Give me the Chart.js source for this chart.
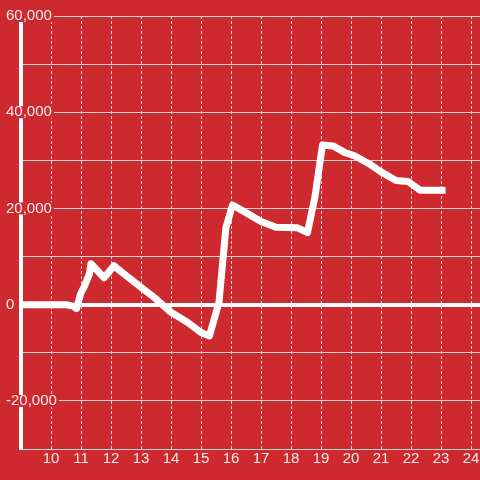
<!DOCTYPE html>
<html>
<head>
<meta charset="utf-8">
<script src="https://cdn.jsdelivr.net/npm/chart.js@4.4.0/dist/chart.umd.min.js"></script>
<style>
  html, body { margin: 0; padding: 0; background: #cd292e; }
  #wrap { width: 480px; height: 480px; }
</style>
</head>
<body>
<div id="wrap"><canvas id="chart"></canvas></div>
<script>
// data
const hours = [9, 10.5, 10.73, 10.85, 11.0, 11.1, 11.28, 11.33, 11.77, 12.1, 12.33, 13.0, 13.44, 14.0, 14.56, 15.0, 15.28, 15.6, 15.83, 16.05, 16.67, 17.0, 17.5, 18.2, 18.55, 18.8, 19.05, 19.4, 19.8, 20.1, 20.6, 21.0, 21.5, 21.9, 22.3, 23.15];
const values = [0, 0, -300, -800, 2500, 3600, 6400, 8500, 5600, 8100, 6900, 3600, 1500, -1600, -3700, -5800, -6500, 500, 16000, 20700, 18500, 17300, 16100, 16000, 15000, 22500, 33200, 33000, 31600, 31000, 29300, 27600, 25800, 25600, 23800, 23800];
const xTicks = [10, 11, 12, 13, 14, 15, 16, 17, 18, 19, 20, 21, 22, 23, 24];
const yTicks = [-30000, -20000, -10000, 0, 10000, 20000, 30000, 40000, 50000, 60000];
const yLabeled = [-20000, 0, 20000, 40000, 60000];

const bg = '#cd292e';
const txt = 'rgba(255,255,255,0.9)';
const grid = '#d6d6d6';

const points = hours.map((h, i) => ({x: h, y: values[i]}));

const ctx = document.getElementById('chart').getContext('2d');
let chart = new Chart(ctx, {
	type: 'line',
	data: {
		datasets: [{
			data: points,
			borderColor: '#ffffff',
			borderWidth: 7,
			borderJoinStyle: 'round',
			borderCapStyle: 'butt',
			pointRadius: 0,
			tension: 0,
			fill: false
		}]
	},
	options: {
		responsive: true,
		maintainAspectRatio: false,
		animation: false,
		layout: { padding: { left: 21, top: 16, bottom: 11, right: 0 } },
		plugins: { legend: { display: false }, tooltip: { enabled: false } },
		scales: {
			x: {
				type: 'linear',
				min: 9,
				max: 24.3,
				afterBuildTicks: s => { s.ticks = xTicks.map(v => ({value: v})); },
				afterFit: s => { s.paddingLeft = 0; s.paddingRight = 0; },
				grid: { color: grid, lineWidth: 1, drawTicks: false },
				border: { display: true, color: grid, width: 1, dash: [3, 2] },
				ticks: {
					color: txt,
					padding: 1,
					font: { family: 'Liberation Sans, Arial, sans-serif', size: 15 },
					maxRotation: 0,
					autoSkip: false
				}
			},
			y: {
				min: -30000,
				max: 60000,
				afterBuildTicks: s => { s.ticks = yTicks.map(v => ({value: v})); },
				afterFit: s => { s.width = 0; s.paddingTop = 0; s.paddingBottom = 0; },
				grid: {
					drawTicks: false,
					color: c => c.tick.value === 0 ? '#ffffff' : grid,
					lineWidth: c => c.tick.value === 0 ? 4 : 1
				},
				border: { display: true, color: '#ffffff', width: 4 },
				ticks: {
					mirror: true,
					padding: -15,
					color: txt,
					font: { family: 'Liberation Sans, Arial, sans-serif', size: 15, lineHeight: 0.8 },
					callback: v => yLabeled.includes(v) ? v.toLocaleString('en-US') : '',
					showLabelBackdrop: c => yLabeled.includes(c.tick.value),
					backdropColor: bg,
					backdropPadding: { left: 2, right: 2, top: 0, bottom: 0 }
				}
			}
		}
	}
});
</script>
</body>
</html>
